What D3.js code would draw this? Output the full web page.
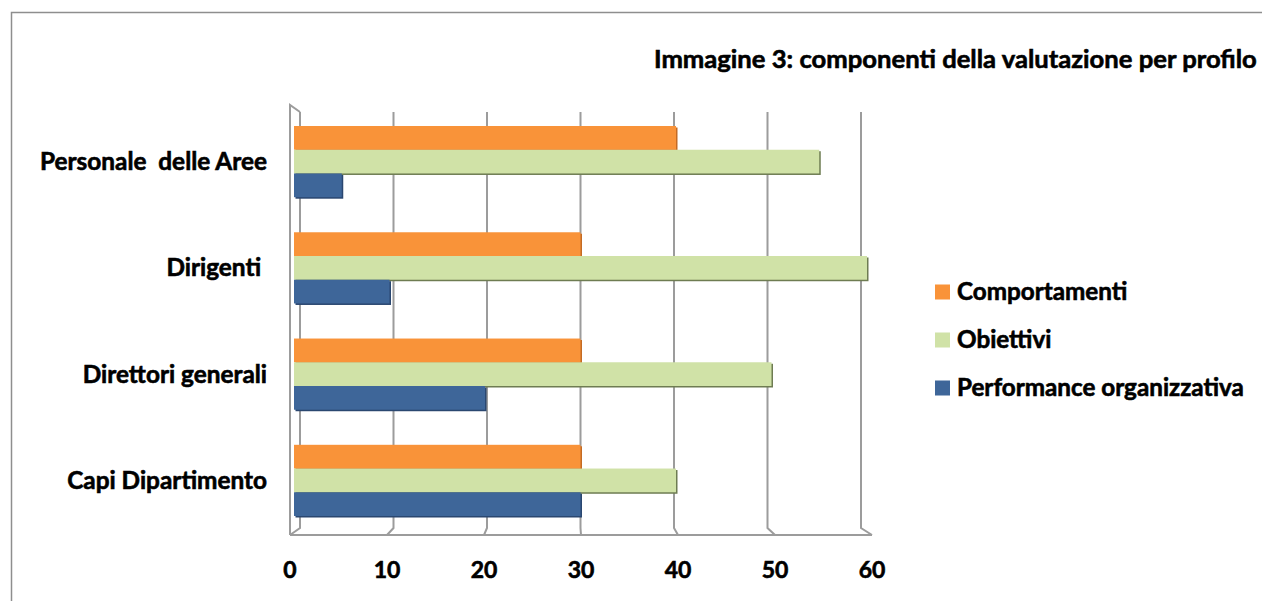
<!DOCTYPE html>
<html>
<head>
<meta charset="utf-8">
<script src="https://cdn.jsdelivr.net/npm/d3@7"></script>
<style>
  html, body { margin: 0; padding: 0; background: #fff; }
  svg { display: block; }
  text { font-family: Lato, "Open Sans", sans-serif; font-weight: 700; fill: #000; stroke: #000; stroke-width: 0.6px; white-space: pre; }
</style>
</head>
<body>
<svg id="chart" width="1262" height="601"></svg>
<script>
// Profiles (top to bottom) and the weight of each evaluation component
const categories = ["Personale  delle Aree", "Dirigenti ", "Direttori generali", "Capi Dipartimento"];
const seriesNames = ["Comportamenti", "Obiettivi", "Performance organizzativa"];
const comportamenti = [40, 30, 30, 30];
const obiettivi = [55, 60, 50, 40];
const performance = [5, 10, 20, 30];
const tickValues = [0, 10, 20, 30, 40, 50, 60];
const titleText = "Immagine 3: componenti della valutazione per profilo";

const seriesValues = [comportamenti, obiettivi, performance];
const colors = ["#F99339", "#D0E2A7", "#3E6699"];
const shadowColors = ["#C46B24", "#6E7C52", "#2A4770"];

const svg = d3.select("#chart");

// Outer chart frame (top and left edges visible)
svg.append("path")
  .attr("d", "M11.5,601 L11.5,12.5 L1262,12.5")
  .attr("fill", "none").attr("stroke", "#8E8E8E").attr("stroke-width", 1.5);

// Value scales: back wall, front floor edge, and bar plane of the 3D box
const xBack = d3.scaleLinear().domain([0, 60]).range([300, 861]);
const xFront = d3.scaleLinear().domain([0, 60]).range([290, 872]);
const xBar = d3.scaleLinear().domain([0, 60]).range([294, 867]);

const yBack = { top: 112, bottom: 528 };
const yFront = { top: 105, bottom: 535 };

const y = d3.scaleBand().domain(categories).range([126, 516]).paddingInner(0.33).paddingOuter(0);
const ySub = d3.scaleBand().domain(seriesNames).range([0, y.bandwidth()]);

const grid = svg.append("g").attr("fill", "none").attr("stroke", "#9C9C9C").attr("stroke-width", 2);

// Gridlines on the back wall, each turning onto the floor edge
grid.selectAll("path.gl").data(tickValues).join("path")
  .attr("class", "gl")
  .attr("d", d => `M${xBack(d)},${yBack.top} L${xBack(d)},${yBack.bottom} L${xFront(d)},${yFront.bottom}`);

// Floor front edge
grid.append("path")
  .attr("d", `M${xFront(0)},${yFront.bottom} L${xFront(60)},${yFront.bottom}`);

// Side wall at zero
grid.append("path")
  .attr("d", `M${xFront(0)},${yFront.bottom} L${xFront(0)},${yFront.top} L${xBack(0)},${yBack.top}`);

// Bars with a thin shaded edge for depth
const bars = svg.append("g");
categories.forEach((cat, ci) => {
  seriesNames.forEach((s, si) => {
    const v = seriesValues[si][ci];
    const y0 = y(cat) + ySub(s);
    const h = ySub.bandwidth();
    const w = xBar(v) - xBar(0);
    bars.append("rect")
      .attr("x", xBar(0) + 1.5).attr("y", y0 + 1.5)
      .attr("width", w).attr("height", h)
      .attr("fill", shadowColors[si]);
    bars.append("rect")
      .attr("x", xBar(0)).attr("y", y0)
      .attr("width", w).attr("height", h)
      .attr("fill", colors[si]);
  });
});

// Tick labels along the floor
svg.append("g").selectAll("text").data(tickValues).join("text")
  .attr("x", d => xFront(d))
  .attr("y", 578)
  .attr("text-anchor", "middle")
  .style("font-size", "23px")
  .text(d => d);

// Category labels
const catLabels = svg.append("g").selectAll("text").data(categories).join("text")
  .attr("x", 267)
  .attr("y", d => y(d) + y.bandwidth() / 2)
  .attr("dy", "0.35em")
  .attr("text-anchor", "end")
  .style("font-size", "22px")
  .text(d => d);

// Legend
const legend = svg.append("g");
const legendY = [292, 340, 388];
seriesNames.forEach((s, i) => {
  legend.append("rect")
    .attr("x", 935).attr("y", legendY[i] - 7.5)
    .attr("width", 15).attr("height", 15)
    .attr("fill", colors[i]);
});
const legendLabels = legend.selectAll("text").data(seriesNames).join("text")
  .attr("x", 957)
  .attr("y", (d, i) => legendY[i])
  .attr("dy", "0.35em")
  .style("font-size", "22px")
  .text(d => d);

// Title
const title = svg.append("text")
  .attr("x", 654).attr("y", 68)
  .style("font-size", "26px")
  .text(titleText);

// Fit a group's font size so a reference label spans a given width
function fitGroup(sel, refNode, targetWidth) {
  const base = parseFloat(refNode.style.fontSize);
  const w = refNode.getComputedTextLength();
  const size = base * targetWidth / w;
  sel.style("font-size", size + "px");
}
fitGroup(catLabels, catLabels.nodes()[0], 227);
fitGroup(legendLabels, legendLabels.nodes()[2], 287);
fitGroup(title, title.node(), 603);
</script>
</body>
</html>
